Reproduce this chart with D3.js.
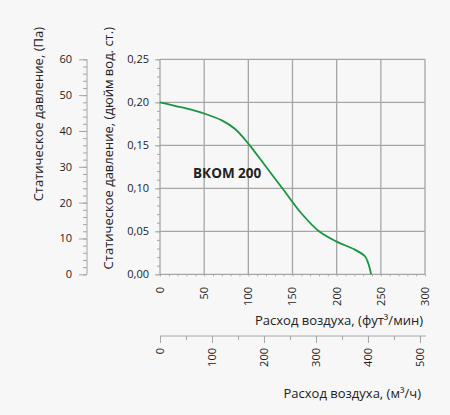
<!DOCTYPE html>
<html>
<head>
<meta charset="utf-8">
<script src="https://cdn.jsdelivr.net/npm/d3@7"></script>
<style>
  body { margin: 0; background: #f7f7f7; }
  svg { display: block; font-family: "Open Sans", sans-serif; }
  text { fill: #222; }
</style>
</head>
<body>
<svg id="chart" width="450" height="415"></svg>
<script>
// curve: airflow (cfm) vs static pressure (in. wg)
const flowCfm = [0, 25, 50, 70, 85, 100, 120, 140, 160, 180, 200, 220, 232, 236, 239];
const pressureIn = [0.200, 0.194, 0.187, 0.179, 0.169, 0.152, 0.125, 0.098, 0.071, 0.050, 0.038, 0.029, 0.021, 0.012, 0.000];

const cfmTicks = [0, 50, 100, 150, 200, 250, 300];
const inTicks = [0, 0.05, 0.10, 0.15, 0.20, 0.25];
const paTicks = [0, 10, 20, 30, 40, 50, 60];
const m3hTicks = [0, 100, 200, 300, 400, 500];

const modelName = 'ВКОМ 200';
const titlePa = 'Статическое давление, (Па)';
const titleIn = 'Статическое давление, (дюйм вод. ст.)';
const titleCfm = 'Расход воздуха, (фут³/мин)';
const titleM3h = 'Расход воздуха, (м³/ч)';

const svg = d3.select('#chart');
const gridColor = '#a6a6a6';
const comma = d => d3.format('.2f')(d).replace('.', ',');

const x = d3.scaleLinear().domain([0, 300]).range([160, 425]);
const y = d3.scaleLinear().domain([0, 0.25]).range([274.3, 59.3]);
const yPa = d3.scaleLinear().domain([0, 60]).range([274.3, 59.3]);
const xM3h = d3.scaleLinear().domain([0, 300 * 1.699]).range([160, 425]);

// grid
svg.append('g').selectAll('line.v').data(cfmTicks).enter()
  .append('line')
    .attr('x1', d => x(d)).attr('x2', d => x(d))
    .attr('y1', y(0)).attr('y2', y(0.25))
    .attr('stroke', gridColor).attr('stroke-width', 1.3);
svg.append('g').selectAll('line.h').data(inTicks).enter()
  .append('line')
    .attr('x1', x(0)).attr('x2', x(300))
    .attr('y1', d => y(d)).attr('y2', d => y(d))
    .attr('stroke', gridColor).attr('stroke-width', 1.3);

// inner y axis (in. wg)
const yAxis = svg.append('g').attr('transform', 'translate(' + x(0) + ',0)');
yAxis.call(d3.axisLeft(y).ticks(25).tickSize(3).tickFormat(''));
yAxis.append('g').call(d3.axisLeft(y).tickValues(inTicks).tickSize(5).tickPadding(6).tickFormat(comma));
yAxis.selectAll('path').remove();
yAxis.selectAll('line').attr('stroke', gridColor);
yAxis.selectAll('text').style('font-size', '11px').style('font-family', '"Open Sans", sans-serif').attr('fill', '#222');

// inner x axis (cfm)
const xAxis = svg.append('g').attr('transform', 'translate(0,' + y(0) + ')');
xAxis.call(d3.axisBottom(x).ticks(30).tickSize(2).tickFormat(''));
xAxis.selectAll('path').remove();
xAxis.selectAll('line').attr('stroke', gridColor);
svg.append('g').selectAll('text').data(cfmTicks).enter()
  .append('text')
    .attr('transform', d => 'translate(' + x(d) + ',287) rotate(-90)')
    .attr('dy', '0.35em')
    .attr('text-anchor', 'end')
    .style('font-size', '11px')
    .text(d => d);

// Pa axis
const paAxis = svg.append('g').attr('transform', 'translate(87,0)');
paAxis.call(d3.axisLeft(yPa).ticks(30).tickSize(4).tickFormat(''));
paAxis.append('g').call(d3.axisLeft(yPa).tickValues(paTicks).tickSize(8).tickPadding(7));
paAxis.selectAll('path').attr('stroke', gridColor).attr('d', 'M0,' + yPa(60) + 'V' + yPa(0));
paAxis.selectAll('g > path').filter((d, i) => i > 0).remove();
paAxis.selectAll('line').attr('stroke', gridColor);
paAxis.selectAll('text').style('font-size', '11px').style('font-family', '"Open Sans", sans-serif').attr('fill', '#222');

// m3/h axis
const m3Axis = svg.append('g').attr('transform', 'translate(0,336)');
m3Axis.call(d3.axisBottom(xM3h).ticks(10).tickSize(4).tickFormat(''));
m3Axis.append('g').call(d3.axisBottom(xM3h).tickValues(m3hTicks).tickSize(7).tickFormat(''));
m3Axis.selectAll('path').remove();
m3Axis.append('line').attr('x1', xM3h(0)).attr('x2', 426).attr('stroke', gridColor);
m3Axis.selectAll('line').attr('stroke', gridColor);
svg.append('g').selectAll('text').data(m3hTicks).enter()
  .append('text')
    .attr('transform', d => 'translate(' + xM3h(d) + ',348) rotate(-90)')
    .attr('dy', '0.35em')
    .attr('text-anchor', 'end')
    .style('font-size', '11px')
    .text(d => d);

// curve
const line = d3.line()
  .x((d, i) => x(flowCfm[i]))
  .y(d => y(d))
  .curve(d3.curveCatmullRom.alpha(0.5));
svg.append('path')
  .datum(pressureIn)
  .attr('d', line)
  .attr('fill', 'none')
  .attr('stroke', '#1a9641')
  .attr('stroke-width', 1.8);

// labels
svg.append('text')
  .attr('x', 193).attr('y', 178)
  .style('font-size', '13.5px').style('font-weight', 'bold')
  .text(modelName);

svg.append('text')
  .attr('transform', 'translate(43,27) rotate(-90)')
  .attr('text-anchor', 'end')
  .style('font-size', '13px')
  .text(titlePa);
svg.append('text')
  .attr('transform', 'translate(113,27) rotate(-90)')
  .attr('text-anchor', 'end')
  .style('font-size', '13px')
  .text(titleIn);

svg.append('text')
  .attr('x', 423).attr('y', 325)
  .attr('text-anchor', 'end')
  .style('font-size', '13px')
  .text(titleCfm);
svg.append('text')
  .attr('x', 421).attr('y', 398)
  .attr('text-anchor', 'end')
  .style('font-size', '13px')
  .text(titleM3h);
</script>
</body>
</html>
